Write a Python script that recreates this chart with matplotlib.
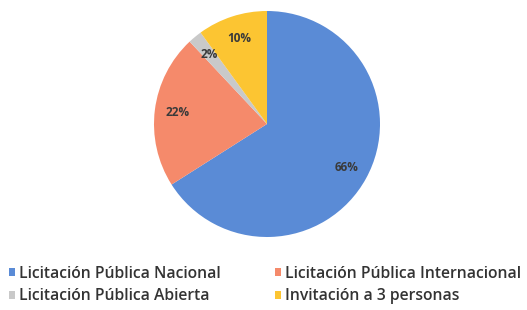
import matplotlib.pyplot as plt
from matplotlib.patches import Patch

plt.rcParams['font.family'] = ['Open Sans', 'DejaVu Sans']

# Data
categories = ["Licitación Pública Nacional", "Licitación Pública Internacional",
              "Licitación Pública Abierta", "Invitación a 3 personas"]
values = [66, 22, 2, 10]
colors = ["#5a8bd6", "#f58a6b", "#c9c9c9", "#fcc532"]

fig = plt.figure(figsize=(5.27, 3.10), dpi=100)

# pie axes: center ~ (267, 124) px from top, radius ~113 px
cx, cy, r = 267, 124, 113
W, H = 527, 310
ax = fig.add_axes([(cx - r) / W, (H - cy - r) / H, 2 * r / W, 2 * r / H])

wedges, texts, autotexts = ax.pie(
    values, colors=colors, startangle=90, counterclock=False,
    autopct='%d%%', pctdistance=0.8,
    wedgeprops=dict(linewidth=0),
    textprops=dict(color="#3a3a3a", fontsize=8.5, fontweight='bold'))
ax.set_xlim(-1, 1)
ax.set_ylim(-1, 1)

# legend: col1 marker at x~12, col2 marker at x~277
handles = [Patch(facecolor=c, edgecolor='none') for c in colors]
# order for 2 columns filled row-wise: Nacional, Internacional / Abierta, Invitación
order = [0, 2, 1, 3]
leg = fig.legend([handles[i] for i in order], [categories[i] for i in order],
                 ncol=2, loc='upper left', bbox_to_anchor=(9 / W, 1 - 266 / H),
                 frameon=False, fontsize=11.3, handlelength=0.4, handleheight=0.4,
                 handletextpad=0.25, columnspacing=3.45, labelspacing=0.4,
                 borderpad=0, borderaxespad=0)
for t in leg.get_texts():
    t.set_color("#333333")
    t.set_fontweight('semibold')

fig.savefig("out.png", dpi=100, facecolor='white')
